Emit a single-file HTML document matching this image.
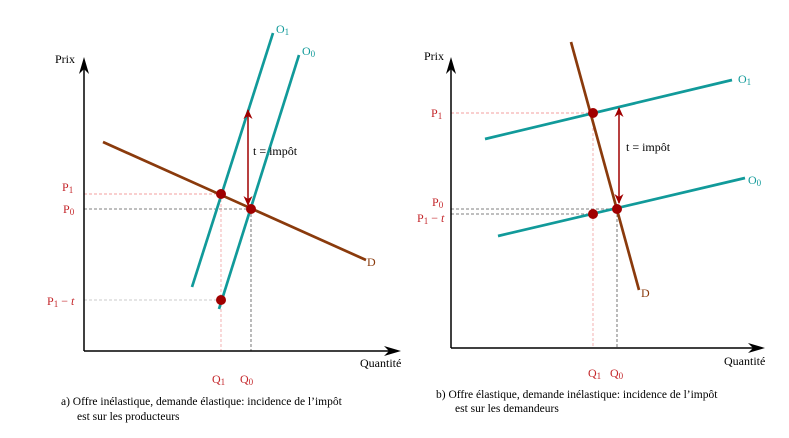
<!DOCTYPE html>
<html><head><meta charset="utf-8"><style>
html,body{margin:0;padding:0;background:#fff;}
svg{display:block;font-family:"Liberation Serif",serif;}
</style></head><body>
<svg id="c" width="789" height="438" viewBox="0 0 789 438">
<defs>
<marker id="ah" viewBox="0 0 10 10" refX="9" refY="5" markerWidth="10" markerHeight="10" markerUnits="userSpaceOnUse" orient="auto-start-reverse"><path d="M0,0.5 L10,5 L0,9.5 L3,5 z" fill="#a00000"/></marker>
</defs>
<g id="A"></g>
<g id="B"></g>
</svg>
<script>
// Panel a data (quantity, price units from origin)
const aSupply1 = [[189,318],[108,64]];
const aSupply0 = [[215,296],[135,42]];
const aDemand = [[19,209],[282,91]];
const aP1 = [137,157];
const aP0 = [167,142];
const aP1t = [137,51];
const aTax = [164,241,146];
// Panel b data
const bDemand = [[120,306],[188,58]];
const bSupply1 = [[34,209],[281,268]];
const bSupply0 = [[47,112],[294,170]];
const bP1 = [142,235];
const bP0 = [166,139];
const bP1t = [142,134];
const bTax = [168,240,145];

const NS="http://www.w3.org/2000/svg";
function mk(g,tag,attrs,name,txt){const e=document.createElementNS(NS,tag);for(const k in attrs)e.setAttribute(k,attrs[k]);


if(txt!==undefined)e.textContent=txt;g.appendChild(e);return e;}
const TEAL="#119a9a",BROWN="#8a3a0c",DR="#a00000",LR="#c4262a";

function panel(g,ox,oy,axTop,axRight,S1,S0,D,P1,P0,P1t,tax,lab){
  const X=q=>ox+q, Y=p=>oy-p;
  mk(g,'line',{x1:ox,y1:Y(P1[1]),x2:X(P1[0]),y2:Y(P1[1]),stroke:"#f08080","stroke-width":0.8,"stroke-dasharray":"3,2"},'p1-guide');
  mk(g,'line',{x1:ox,y1:Y(P0[1]),x2:X(P0[0]),y2:Y(P0[1]),stroke:"#555","stroke-width":0.8,"stroke-dasharray":"3,2"},'p0-guide');
  mk(g,'line',{x1:ox,y1:Y(P1t[1]),x2:X(P1t[0]),y2:Y(P1t[1]),stroke:lab.p1tc,"stroke-width":0.8,"stroke-dasharray":"3,2"},'p1t-guide');
  mk(g,'line',{x1:X(P1[0]),y1:Math.min(Y(P1[1]),Y(P1t[1])),x2:X(P1[0]),y2:oy,stroke:"#f0a0a0","stroke-width":0.8,"stroke-dasharray":"3,2"},'q1-guide');
  mk(g,'line',{x1:X(P0[0]),y1:Y(P0[1]),x2:X(P0[0]),y2:oy,stroke:"#555","stroke-width":0.8,"stroke-dasharray":"3,2"},'q0-guide');
  mk(g,'line',{x1:ox,y1:oy,x2:ox,y2:axTop+10,stroke:"#000","stroke-width":1.5},'y-axis');
  mk(g,'path',{d:`M${ox},${axTop} L${ox+5},${axTop+17} L${ox},${axTop+12} L${ox-5},${axTop+17}z`,fill:"#000"},'y-axis-arrow');
  mk(g,'line',{x1:ox,y1:oy,x2:axRight-10,y2:oy,stroke:"#000","stroke-width":1.5},'x-axis');
  mk(g,'path',{d:`M${axRight},${oy} L${axRight-17},${oy-5} L${axRight-12},${oy} L${axRight-17},${oy+5}z`,fill:"#000"},'x-axis-arrow');
  mk(g,'line',{x1:X(S1[0][0]),y1:Y(S1[0][1]),x2:X(S1[1][0]),y2:Y(S1[1][1]),stroke:TEAL,"stroke-width":2.7},'supply-o1');
  mk(g,'line',{x1:X(S0[0][0]),y1:Y(S0[0][1]),x2:X(S0[1][0]),y2:Y(S0[1][1]),stroke:TEAL,"stroke-width":2.7},'supply-o0');
  mk(g,'line',{x1:X(D[0][0]),y1:Y(D[0][1]),x2:X(D[1][0]),y2:Y(D[1][1]),stroke:BROWN,"stroke-width":2.7},'demand-d');
  mk(g,'line',{x1:X(tax[0]),y1:Y(tax[1]),x2:X(tax[0]),y2:Y(tax[2]),stroke:DR,"stroke-width":1.5,"marker-start":"url(#ah)","marker-end":"url(#ah)"},'tax-arrow');
  [[P1,'point-p1'],[P0,'point-p0'],[P1t,'point-p1-minus-t']].forEach(([p,n])=>mk(g,'circle',{cx:X(p[0]),cy:Y(p[1]),r:5,fill:DR},n));
  const T=(x,y,s,n,fill,fs)=>{const t=mk(g,'text',{x:x,y:y,fill:fill||"#000","font-size":fs||12},n);t.innerHTML=s;return t;};
  T(lab.prix[0],lab.prix[1],"Prix",'y-axis-title');
  T(lab.qt[0],lab.qt[1],"Quantité",'x-axis-title');
  T(lab.o1[0],lab.o1[1],'O<tspan font-size="9" dy="2">1</tspan>','label-o1',TEAL);
  T(lab.o0[0],lab.o0[1],'O<tspan font-size="9" dy="2">0</tspan>','label-o0',TEAL);
  T(lab.d[0],lab.d[1],'D','label-d',BROWN);
  T(lab.p1[0],lab.p1[1],'P<tspan font-size="9" dy="2">1</tspan>','label-p1',LR);
  T(lab.p0[0],lab.p0[1],'P<tspan font-size="9" dy="2">0</tspan>','label-p0',LR);
  T(lab.p1t[0],lab.p1t[1],'P<tspan font-size="9" dy="2">1</tspan><tspan dy="-2"> − <tspan font-style="italic">t</tspan></tspan>','label-p1-minus-t',LR);
  T(lab.q1[0],lab.q1[1],'Q<tspan font-size="9" dy="2">1</tspan>','label-q1',LR);
  T(lab.q0[0],lab.q0[1],'Q<tspan font-size="9" dy="2">0</tspan>','label-q0',LR);
  T(lab.t[0],lab.t[1],'t = impôt','tax-label');
  T(lab.c1[0],lab.c1[1],lab.c1[2],'caption-line-1',"#000",11.5);
  T(lab.c2[0],lab.c2[1],lab.c2[2],'caption-line-2',"#000",11.5);
}
panel(document.getElementById('A'),84,351,57,401,aSupply1,aSupply0,aDemand,aP1,aP0,aP1t,aTax,{
 p1tc:"#bbb",prix:[55,63],qt:[360,367],o1:[276,33],o0:[302,55],d:[367,266],p1:[62,191],p0:[63,213],p1t:[47,305],
 q1:[212,383],q0:[240,383],t:[253,155],
 c1:[61,405,"a) Offre inélastique, demande élastique: incidence de l’impôt"],c2:[77,420,"est sur les producteurs"]});
panel(document.getElementById('B'),451,348,57,765,bSupply1,bSupply0,bDemand,bP1,bP0,bP1t,bTax,{
 p1tc:"#555",prix:[424,60],qt:[724,365],o1:[738,83],o0:[748,184],d:[641,297],p1:[431,117],p0:[432,206],p1t:[417,222],
 q1:[588,377],q0:[610,377],t:[626,151],
 c1:[436,398,"b) Offre élastique, demande inélastique: incidence de l’impôt"],c2:[455,412,"est sur les demandeurs"]});
</script>
</body></html>
